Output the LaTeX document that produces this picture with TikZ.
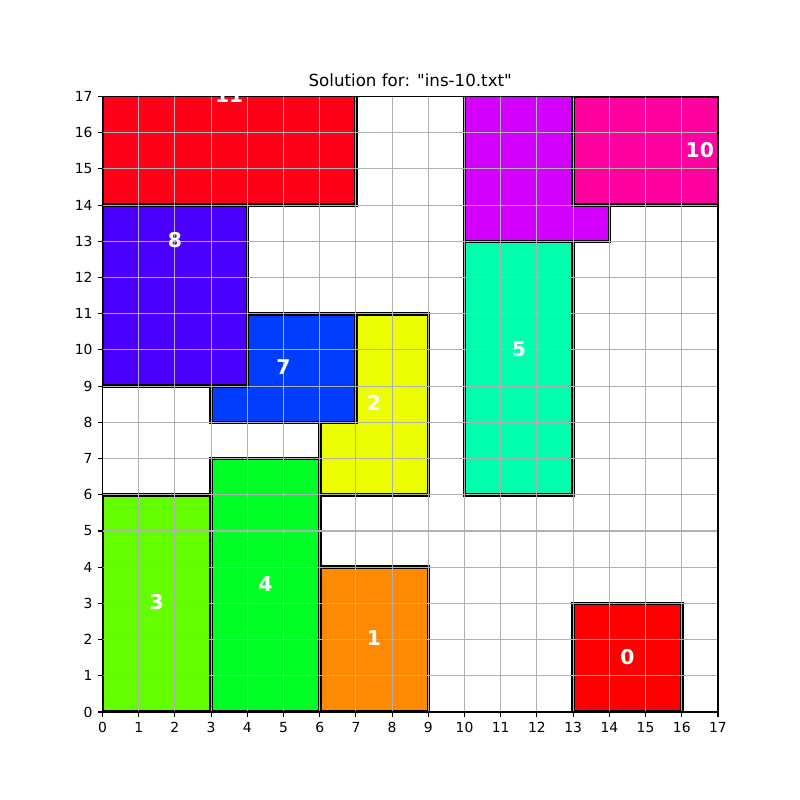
\documentclass[tikz,border=0pt]{standalone}
\usepackage{fontspec}
\setmainfont{DejaVu Sans}
\newfontfamily\titlefont{DejaVu Sans}
\definecolor{piece0}{HTML}{FF0000}
\definecolor{piece1}{HTML}{FF8900}
\definecolor{piece2}{HTML}{ECFF00}
\definecolor{piece3}{HTML}{63FF00}
\definecolor{piece4}{HTML}{00FF26}
\definecolor{piece5}{HTML}{00FFAE}
\definecolor{piece7}{HTML}{003DFF}
\definecolor{piece8}{HTML}{4B00FF}
\definecolor{piece9}{HTML}{D400FF}
\definecolor{piece10}{HTML}{FF00A1}
\definecolor{piece11}{HTML}{FF0018}
\definecolor{gridgray}{HTML}{B0B0B0}
\begin{document}
\begin{tikzpicture}[
	piece/.style={ draw=black, line width=2.8pt },
	gridline/.style={ gridgray, line width=0.86pt },
	spine/.style={ black, line width=0.86pt },
	numtext/.style={ text=white, inner sep=0pt, font=\bfseries\fontsize{16}{18}\selectfont },
	ticktext/.style={ inner sep=0pt, font=\fontsize{10.9}{13}\selectfont }
]
\useasboundingbox (-2.831,-2.431) rectangle (19.266,19.666);

% pieces, grid over them
\begin{scope}
\clip (0,0) rectangle (17,17);
\foreach \n/\x/\y/\w/\h in {0/13/0/3/3, 1/6/0/3/4, 2/6/6/3/5, 3/0/0/3/6, 4/3/0/3/7, 5/10/6/3/8,
	7/3/8/4/3, 8/0/9/4/8, 9/10/13/4/10, 10/13/14/7/3, 11/0/14/7/6}
	\filldraw[piece, fill=piece\n] (\x,\y) rectangle ++(\w,\h);
\draw[gridline] (0,0) grid (17,17);
\end{scope}

% axes and ticks
\draw[spine] (0,0) rectangle (17,17);
\foreach \i in {0,...,17} {
	\draw[spine] (\i,0) -- ++(0,-0.134);
	\node[ticktext, anchor=north] (xt\i) at (\i,-0.268) {\i};
	\draw[spine] (0,\i) -- ++(-0.134,0);
	\node[ticktext, anchor=east] (yt\i) at (-0.268,\i) {\i};
}
\node[anchor=base, inner sep=0pt, font=\titlefont\fontsize{13.1}{15}\selectfont] (title) at (8.5,17.268) {Solution for: "ins-10.txt"};

% piece numbers
\begin{scope}
\clip (0,0) rectangle (17,17);
\foreach \n/\x/\y in {0/14.5/1.53, 1/7.5/2.03, 2/7.5/8.53, 3/1.5/3.03, 4/4.5/3.53, 5/11.5/10.03,
	7/5/9.53, 8/2/13.03, 10/16.5/15.53, 11/3.5/17.03}
	\node[numtext] (p\n) at (\x,\y) {\n};
\end{scope}

\end{tikzpicture}
\end{document}
